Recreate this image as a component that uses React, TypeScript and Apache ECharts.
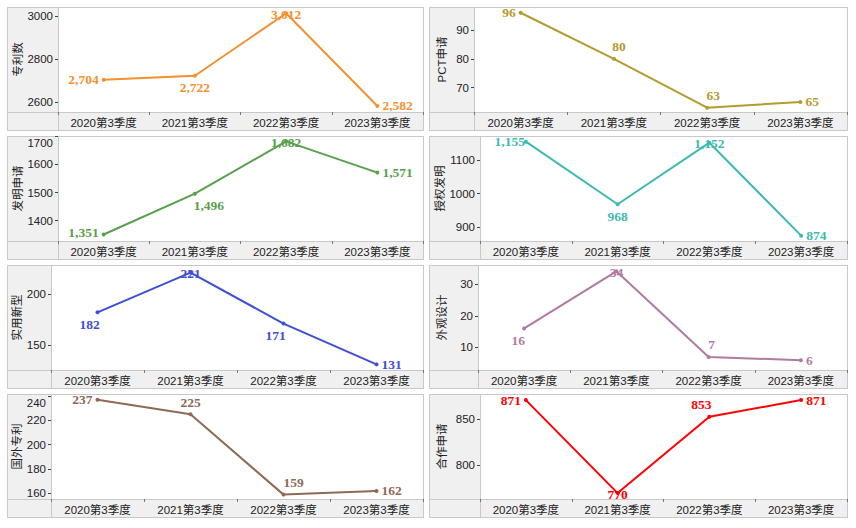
import React, { useEffect, useRef } from "react";
import * as echarts from "echarts";

// ---- data ----
const categories = ["2020第3季度", "2021第3季度", "2022第3季度", "2023第3季度"];

const patentTotal = [2704, 2722, 3012, 2582];
const pctApply = [96, 80, 63, 65];
const inventionApply = [1351, 1496, 1682, 1571];
const inventionGrant = [1155, 968, 1152, 874];
const utilityModel = [182, 221, 171, 131];
const designPatent = [16, 34, 7, 6];
const foreignPatent = [237, 225, 159, 162];
const jointApply = [871, 770, 853, 871];

const seriesNames = ["专利数", "PCT申请", "发明申请", "授权发明", "实用新型", "外观设计", "国外专利", "合作申请"];
const seriesValues = [patentTotal, pctApply, inventionApply, inventionGrant, utilityModel, designPatent, foreignPatent, jointApply];

const yTicks = [
  [2600, 2800, 3000],
  [70, 80, 90],
  [1400, 1500, 1600, 1700],
  [900, 1000, 1100],
  [150, 200],
  [10, 20, 30],
  [160, 180, 200, 220, 240],
  [800, 850],
];
const yMin = [2554, 61.5, 1328, 858, 125.5, 2.9, 155.4, 763.6];
const yMax = [3041, 98.0, 1701, 1172, 228.4, 36, 241.7, 877.6];

// ---- styles / layout ----
const colors = ["#F39130", "#B59A2C", "#58A04C", "#3DBAB0", "#3E4FD5", "#B07AA1", "#8E6A55", "#FF0000"];
const grayWidths = [51, 45, 51, 51, 44, 49, 44, 51];
// label placement per point: [position, dx, dy]
const labelPlacement: [string, number, number][][] = [
  [["left", 0, 0], ["bottom", 0, 0], ["inside", 0, 1], ["right", 0, 0]],
  [["left", 0, 0], ["top", 5, 0], ["top", 6, 0], ["right", 0, 0]],
  [["left", 0, -2], ["bottom", 14, 0], ["inside", 0, 1], ["right", 0, 0]],
  [["left", 4, 0], ["bottom", 0, 0], ["inside", 0, 1], ["right", 0, 0]],
  [["bottom", -8, 0], ["inside", 0, 1], ["bottom", -8, 0], ["right", 0, 0]],
  [["bottom", -6, 0], ["inside", 0, 1], ["top", 3, 0], ["right", 0, 0]],
  [["left", 0, 0], ["top", 0, 0], ["top", 10, 0], ["right", 0, 0]],
  [["left", 0, 0], ["inside", 0, 1], ["top", -8, 0], ["right", 0, 0]],
];

const colX = [7, 429];
const colW = [416, 418];
const rowY = [7, 136, 265, 394];
const plotH = 105;
const stripH = 18;

const sansFont = "'Liberation Sans', Arial, 'Noto Sans CJK SC', sans-serif";
const serifFont = "'Liberation Serif', 'Times New Roman', serif";
const lineGray = "#c8c8c8";
const textColor = "#222";

function buildOption() {
  const grids: any[] = [];
  const xAxes: any[] = [];
  const yAxes: any[] = [];
  const series: any[] = [];
  const graphics: any[] = [];

  seriesNames.forEach((name, i) => {
    const col = i % 2;
    const row = Math.floor(i / 2);
    const px = colX[col];
    const pw = colW[col];
    const py = rowY[row];
    const ph = plotH + stripH;
    const gw = grayWidths[i];

    graphics.push({
      type: "rect",
      z: -10,
      silent: true,
      shape: { x: px + 0.5, y: py + 0.5, width: pw, height: ph },
      style: { fill: "#f0f0f0", stroke: lineGray, lineWidth: 1 },
    });
    graphics.push({
      type: "rect",
      z: -9,
      silent: true,
      shape: { x: px + gw, y: py + 1, width: pw - gw, height: plotH },
      style: { fill: "#ffffff" },
    });
    graphics.push({
      type: "line",
      z: -8,
      silent: true,
      shape: { x1: px, y1: py + plotH + 0.5, x2: px + pw, y2: py + plotH + 0.5 },
      style: { stroke: lineGray, lineWidth: 1 },
    });
    graphics.push({
      type: "line",
      z: -8,
      silent: true,
      shape: { x1: px + gw + 0.5, y1: py, x2: px + gw + 0.5, y2: py + ph },
      style: { stroke: lineGray, lineWidth: 1 },
    });
    graphics.push({
      type: "rect",
      z: -8,
      silent: true,
      shape: { x: px + 0.5, y: py + 0.5, width: pw, height: ph },
      style: { fill: "none", stroke: lineGray, lineWidth: 1 },
    });

    grids.push({
      left: px + gw,
      top: py,
      width: pw - gw,
      height: plotH,
      containLabel: false,
      outerBoundsMode: "none",
    });

    xAxes.push({
      type: "category",
      gridIndex: i,
      data: categories,
      boundaryGap: true,
      axisLine: { show: false },
      axisTick: { show: true, inside: false, length: 3, lineStyle: { color: "#777" } },
      axisLabel: { interval: 0, margin: 5, fontSize: 11.5, color: textColor, fontFamily: sansFont },
      splitLine: { show: false },
    });

    const lo = yMin[i];
    const hi = yMax[i];
    yAxes.push({
      type: "value",
      gridIndex: i,
      min: lo,
      max: hi,
      name: name,
      nameLocation: "middle",
      nameGap: gw - 19,
      nameTextStyle: { fontSize: 11.5, color: textColor, fontFamily: sansFont },
      axisLine: { show: false },
      axisTick: { show: true, inside: false, length: 3, customValues: yTicks[i], lineStyle: { color: "#444" } },
      axisLabel: {
        customValues: yTicks[i],
        margin: 5,
        fontSize: 11.5,
        color: textColor,
        fontFamily: sansFont,
        // a tick label right at the top edge is pushed down to stay inside the panel
        formatter: (v: number) => {
          const fromTop = ((hi - v) / (hi - lo)) * plotH;
          return fromTop < 5 ? "{shift|" + String(v) + "}" : String(v);
        },
        rich: {
          shift: { padding: [14, 0, 0, 0], fontSize: 11.5, color: textColor, fontFamily: sansFont },
        },
      },
      splitLine: { show: false },
    });

    const vals = seriesValues[i];
    series.push({
      type: "line",
      name,
      xAxisIndex: i,
      yAxisIndex: i,
      symbol: "circle",
      symbolSize: 4,
      lineStyle: { width: 2, color: colors[i] },
      itemStyle: { color: colors[i] },
      label: {
        show: true,
        distance: 3,
        color: colors[i],
        fontFamily: serifFont,
        fontWeight: "bold",
        fontSize: 13.5,
        formatter: (p: any) => Number(p.value).toLocaleString("en-US"),
      },
      data: vals.map((v, j) => {
        const [pos, dx, dy] = labelPlacement[i][j];
        return { value: v, label: { position: pos, offset: [dx, dy] } };
      }),
    });
  });

  return {
    animation: false,
    backgroundColor: "#ffffff",
    grid: grids,
    xAxis: xAxes,
    yAxis: yAxes,
    series,
    graphic: { elements: graphics },
  };
}

export default function App() {
  const ref = useRef<HTMLDivElement>(null);
  useEffect(() => {
    if (!ref.current) return;
    const chart = echarts.init(ref.current, undefined, { renderer: "svg" });
    chart.setOption(buildOption() as any);
    return () => chart.dispose();
  }, []);
  return (
    <div
      ref={ref}
      style={{ position: "fixed", left: 0, top: 0, width: 856, height: 528 }}
    />
  );
}
